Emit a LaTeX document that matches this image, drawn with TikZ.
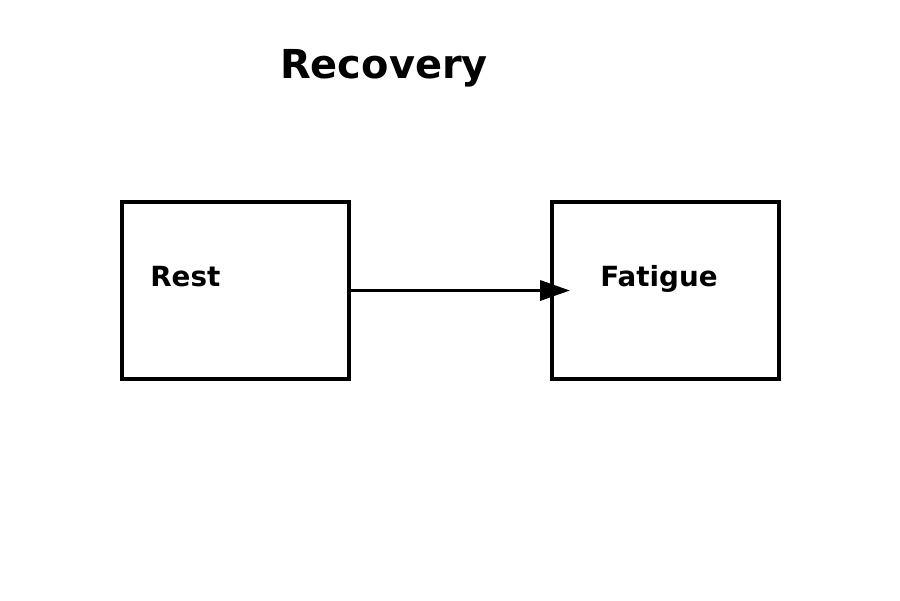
\documentclass[tikz,border=0pt]{standalone}
\usepackage{fontspec}
\setmainfont{DejaVu Sans}
\usepackage{tikz}
\usetikzlibrary{arrows.meta}
\tikzset{
  box/.style={draw=black, line width=0.07cm, minimum width=4.54cm, minimum height=3.54cm, inner sep=0pt},
  boxtext/.style={anchor=base west, inner sep=0pt, font=\fontsize{15.8}{19}\selectfont\bfseries},
  titletext/.style={anchor=base, inner sep=0pt, font=\fontsize{22.7}{27}\selectfont\bfseries},
  flow/.style={line width=0.07cm, -{Triangle[length=0.6cm, width=0.4cm]}},
}

\begin{document}
\begin{tikzpicture}[x=0.02cm, y=-0.02cm]  % pixel grid, 900 x 600
  \useasboundingbox (0,0) rectangle (900,600);
  % title
  \node[titletext] (title) at (384,78.5) {Recovery};
  % the two states
  \node[box] (rest) at (235.5,290.5) {};
  \node[box] (fatigue) at (665.5,290.5) {};
  \node[boxtext] (restlbl) at (150,286) {Rest};
  \node[boxtext] (fatiguelbl) at (600,286) {Fatigue};
  % connector, tip reaches into the right box
  \coordinate (tip) at (570,290.5);
  \draw[flow] (rest.east) -- (tip);
\end{tikzpicture}
\end{document}
